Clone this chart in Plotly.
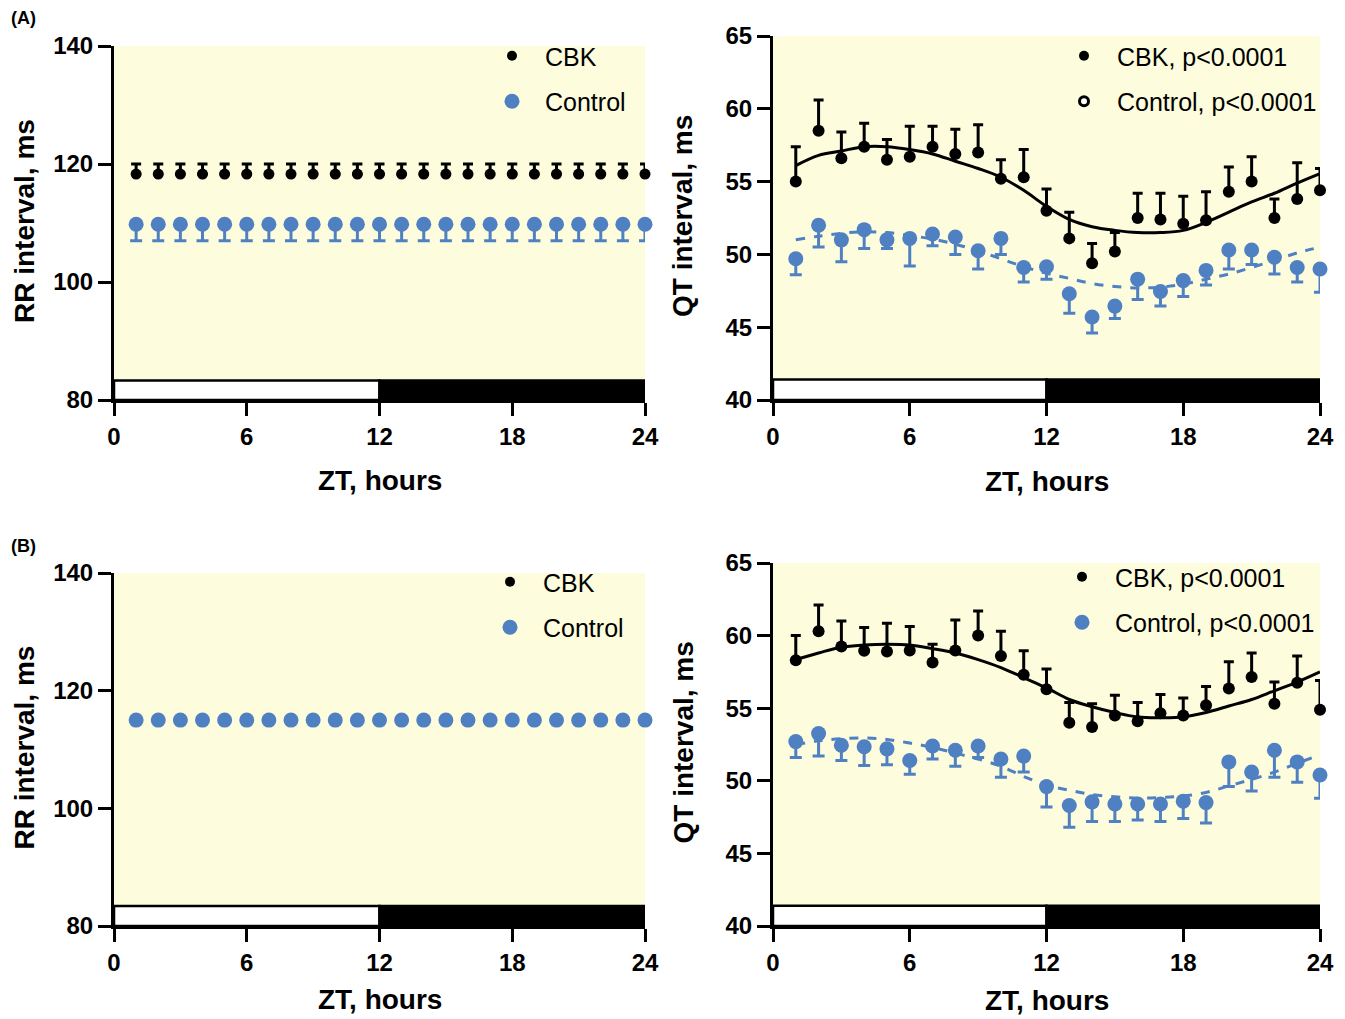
import plotly.graph_objects as go

W, H = 1345, 1019

hours = list(range(1, 25))
x_ticks = [0, 6, 12, 18, 24]

# ---- Panel A, RR interval ----
rr_a_cbk = [118.3] * 24
rr_a_cbk_sem = [1.7] * 24
rr_a_ctrl = [109.8] * 24
rr_a_ctrl_sem = [2.8] * 24

# ---- Panel A, QT interval ----
qt_a_cbk = [55.0, 58.5, 56.6, 57.4, 56.5, 56.7, 57.4, 56.9, 57.0, 55.2, 55.3, 53.0,
            51.1, 49.4, 50.2, 52.5, 52.4, 52.1, 52.35, 54.3, 55.0, 52.5, 53.8, 54.4]
qt_a_cbk_sem = [2.4, 2.1, 1.8, 1.6, 1.4, 2.1, 1.4, 1.7, 1.9, 1.3, 1.9, 1.5,
                1.8, 1.35, 1.3, 1.7, 1.8, 1.9, 1.95, 1.7, 1.7, 1.3, 2.5, 1.5]
qt_a_ctrl = [49.7, 52.0, 51.0, 51.7, 51.0, 51.1, 51.4, 51.2, 50.25, 51.1, 49.1, 49.15,
             47.3, 45.7, 46.45, 48.3, 47.45, 48.2, 48.9, 50.3, 50.3, 49.8, 49.1, 49.0]
qt_a_ctrl_sem = [1.1, 1.5, 1.5, 1.3, 0.6, 1.9, 0.8, 1.2, 1.25, 1.1, 1.0, 0.85,
                 1.35, 1.1, 0.85, 1.4, 1.0, 1.1, 1.0, 1.3, 1.0, 1.15, 1.0, 1.6]
qt_a_cbk_fit = [56.1, 56.8, 57.1, 57.4, 57.4, 57.2, 56.9, 56.4, 55.9, 55.3, 54.4, 53.3,
                52.4, 51.9, 51.65, 51.5, 51.5, 51.65, 52.2, 52.9, 53.6, 54.2, 54.9, 55.55]
qt_a_ctrl_fit = [51.0, 51.25, 51.45, 51.55, 51.5, 51.3, 51.05, 50.7, 50.25, 49.7, 49.15, 48.7,
                 48.35, 48.0, 47.8, 47.7, 47.75, 47.95, 48.3, 48.65, 49.1, 49.6, 50.1, 50.5]

# ---- Panel B, RR interval ----
rr_b_ctrl = [115.0] * 24

# ---- Panel B, QT interval ----
qt_b_cbk = [58.3, 60.3, 59.25, 58.95, 58.9, 58.97, 58.15, 58.97, 60.0, 58.6, 57.3, 56.3,
            54.0, 53.7, 54.5, 54.1, 54.65, 54.5, 55.2, 56.35, 57.15, 55.3, 56.75, 54.9]
qt_b_cbk_sem = [1.7, 1.8, 1.75, 1.6, 1.95, 1.65, 1.25, 2.1, 1.7, 1.7, 1.65, 1.4,
                1.4, 1.6, 1.4, 1.3, 1.3, 1.2, 1.3, 1.85, 1.65, 1.5, 1.85, 2.0]
qt_b_ctrl = [52.7, 53.25, 52.45, 52.35, 52.2, 51.4, 52.4, 52.1, 52.4, 51.5, 51.7, 49.6,
             48.3, 48.55, 48.4, 48.4, 48.4, 48.6, 48.5, 51.3, 50.6, 52.1, 51.3, 50.4]
qt_b_ctrl_sem = [1.1, 1.55, 1.05, 1.3, 1.1, 0.95, 0.9, 1.1, 0.8, 1.25, 1.1, 1.4,
                 1.5, 1.35, 1.2, 1.1, 1.2, 1.2, 1.4, 1.7, 1.3, 1.85, 1.4, 1.6]
qt_b_cbk_fit = [58.35, 58.8, 59.2, 59.35, 59.4, 59.35, 59.1, 58.8, 58.35, 57.8, 57.1, 56.4,
                55.6, 55.1, 54.7, 54.4, 54.35, 54.4, 54.7, 55.15, 55.6, 56.2, 56.8, 57.5]
qt_b_ctrl_fit = [52.5, 52.75, 52.9, 52.95, 52.85, 52.6, 52.3, 51.9, 51.5, 51.0, 50.3, 49.7,
                 49.35, 49.05, 48.9, 48.8, 48.85, 48.95, 49.2, 49.65, 50.1, 50.6, 51.2, 51.8]

# light/dark bar: (start, end, fill)
ld_bar = [(0, 12, "white"), (12, 24, "black")]

BLACK = "#000000"
BLUE = "#4F80C2"
BG = "#FDFCDD"
FONT = "Liberation Sans"

panels = [
    dict(box=(114, 645, 46, 400), yr=(80, 140), yt=[80, 100, 120, 140], bar=3.3,
         ytitle="RR interval, ms", xt_off=80),
    dict(box=(773, 1320, 36, 400), yr=(40, 65), yt=[40, 45, 50, 55, 60, 65], bar=1.4,
         ytitle="QT interval, ms", xt_off=81),
    dict(box=(114, 645, 573, 926), yr=(80, 140), yt=[80, 100, 120, 140], bar=3.4,
         ytitle="RR interval, ms", xt_off=73),
    dict(box=(773, 1320, 563, 926), yr=(40, 65), yt=[40, 45, 50, 55, 60, 65], bar=1.4,
         ytitle="QT interval, ms", xt_off=74),
]


def px(x):
    return x / W


def py(y):
    return 1 - y / H


fig = go.Figure()
layout = dict(width=W, height=H, margin=dict(l=0, r=0, t=0, b=0, pad=0, autoexpand=False),
              template="none",
              paper_bgcolor="white", plot_bgcolor=BG, showlegend=True)
shapes = []
annotations = []

for i, p in enumerate(panels):
    n = "" if i == 0 else str(i + 1)
    l, r, t, b = p["box"]
    axstyle = dict(showline=True, linecolor="black", linewidth=3, ticks="outside",
                   ticklen=13, tickwidth=3, tickcolor="black", showgrid=False,
                   zeroline=False, mirror=False, automargin=False,
                   tickfont=dict(family=FONT, size=24, color="black", weight="bold"))
    layout["xaxis" + n] = dict(domain=[px(l), px(r)], range=[0, 24], tickvals=x_ticks,
                               anchor="y" + n, fixedrange=True, **axstyle)
    layout["yaxis" + n] = dict(domain=[py(b), py(t)], range=list(p["yr"]), tickvals=p["yt"],
                               anchor="x" + n, fixedrange=True, **axstyle)
    for (x0, x1, col) in ld_bar:
        shapes.append(dict(type="rect", xref="x" + n, yref="y" + n, x0=x0, x1=x1,
                           y0=p["yr"][0], y1=p["yr"][0] + p["bar"], fillcolor=col,
                           line=dict(color="black", width=2.5), layer="above"))
    annotations.append(dict(text="ZT, hours", xref="paper", yref="paper",
                            x=px((l + r) / 2), y=py(b + p["xt_off"]), showarrow=False,
                            font=dict(family=FONT, size=28, color="black", weight="bold"),
                            xanchor="center", yanchor="middle"))
    annotations.append(dict(text=p["ytitle"], xref="paper", yref="paper",
                            x=px(l - 90), y=py((t + b) / 2 - 2), showarrow=False, textangle=-90,
                            font=dict(family=FONT, size=28, color="black", weight="bold"),
                            xanchor="center", yanchor="middle"))

annotations.append(dict(text="(A)", xref="paper", yref="paper", x=px(9), y=py(18),
                        showarrow=False, xanchor="left", yanchor="middle",
                        font=dict(family=FONT, size=18, color="black", weight="bold")))
annotations.append(dict(text="(B)", xref="paper", yref="paper", x=px(9), y=py(546),
                        showarrow=False, xanchor="left", yanchor="middle",
                        font=dict(family=FONT, size=18, color="black", weight="bold")))


def err_up(vals, color, w):
    return dict(type="data", symmetric=False, array=vals, arrayminus=[0] * len(vals),
                color=color, thickness=3, width=w)


def err_down(vals, color, w):
    return dict(type="data", symmetric=False, array=[0] * len(vals), arrayminus=vals,
                color=color, thickness=3, width=w)


def pts(xa, ya, y, color, size, err=None):
    fig.add_trace(go.Scatter(x=hours, y=y, mode="markers", xaxis=xa, yaxis=ya,
                             marker=dict(color=color, size=size), error_y=err,
                             showlegend=False, cliponaxis=False, hoverinfo="skip"))


def fitline(xa, ya, y, color, dash):
    fig.add_trace(go.Scatter(x=hours, y=y, mode="lines", xaxis=xa, yaxis=ya,
                             line=dict(color=color, width=3, dash=dash, shape="spline"),
                             showlegend=False, hoverinfo="skip"))


def leg(legend, name, color, size, group, open_=False):
    marker = dict(color="white" if open_ else color, size=size,
                  line=dict(color="black", width=3) if open_ else dict(width=0))
    fig.add_trace(go.Scatter(x=[None], y=[None], mode="markers", name=name, marker=marker,
                             legend=legend, legendgroup=group, showlegend=True,
                             xaxis="x", yaxis="y"))


# Panel A RR
pts("x", "y", rr_a_ctrl, BLUE, 15, err_down(rr_a_ctrl_sem, BLUE, 6))
pts("x", "y", rr_a_cbk, BLACK, 11, err_up(rr_a_cbk_sem, BLACK, 5))
# Panel A QT
pts("x2", "y2", qt_a_ctrl, BLUE, 15, err_down(qt_a_ctrl_sem, BLUE, 6))
fitline("x2", "y2", qt_a_ctrl_fit, BLUE, "dash")
pts("x2", "y2", qt_a_cbk, BLACK, 12, err_up(qt_a_cbk_sem, BLACK, 5))
fitline("x2", "y2", qt_a_cbk_fit, BLACK, "solid")
# Panel B RR
pts("x3", "y3", rr_b_ctrl, BLUE, 15)
# Panel B QT
pts("x4", "y4", qt_b_ctrl, BLUE, 15, err_down(qt_b_ctrl_sem, BLUE, 6))
fitline("x4", "y4", qt_b_ctrl_fit, BLUE, "dash")
pts("x4", "y4", qt_b_cbk, BLACK, 12, err_up(qt_b_cbk_sem, BLACK, 5))
fitline("x4", "y4", qt_b_cbk_fit, BLACK, "solid")

# legends
leg("legend", "CBK", BLACK, 10, "a1")
leg("legend", "Control", BLUE, 15, "a2")
leg("legend2", "CBK, p<0.0001", BLACK, 10, "b1")
leg("legend2", "Control, p<0.0001", BLACK, 9, "b2", open_=True)
leg("legend3", "CBK", BLACK, 10, "c1")
leg("legend3", "Control", BLUE, 15, "c2")
leg("legend4", "CBK, p<0.0001", BLACK, 10, "d1")
leg("legend4", "Control, p<0.0001", BLUE, 15, "d2")

legfont = dict(family=FONT, size=25, color="black")
for name, (lx, ly) in {"legend": (479, 33), "legend2": (1051, 33),
                       "legend3": (477, 559), "legend4": (1049, 554)}.items():
    layout[name] = dict(x=px(lx), y=py(ly), xanchor="left", yanchor="top",
                        bgcolor="rgba(0,0,0,0)", borderwidth=0, font=legfont,
                        itemwidth=56, tracegroupgap=10,
                        itemclick=False, itemdoubleclick=False)

layout["shapes"] = shapes
layout["annotations"] = annotations
fig.update_layout(**layout)

fig.write_html("out.html", config={"displayModeBar": False},
               post_script="document.documentElement.style.margin='0';"
                           "document.body.style.margin='0';"
                           "document.body.style.overflow='hidden';"
                           "document.documentElement.style.overflow='hidden';")
